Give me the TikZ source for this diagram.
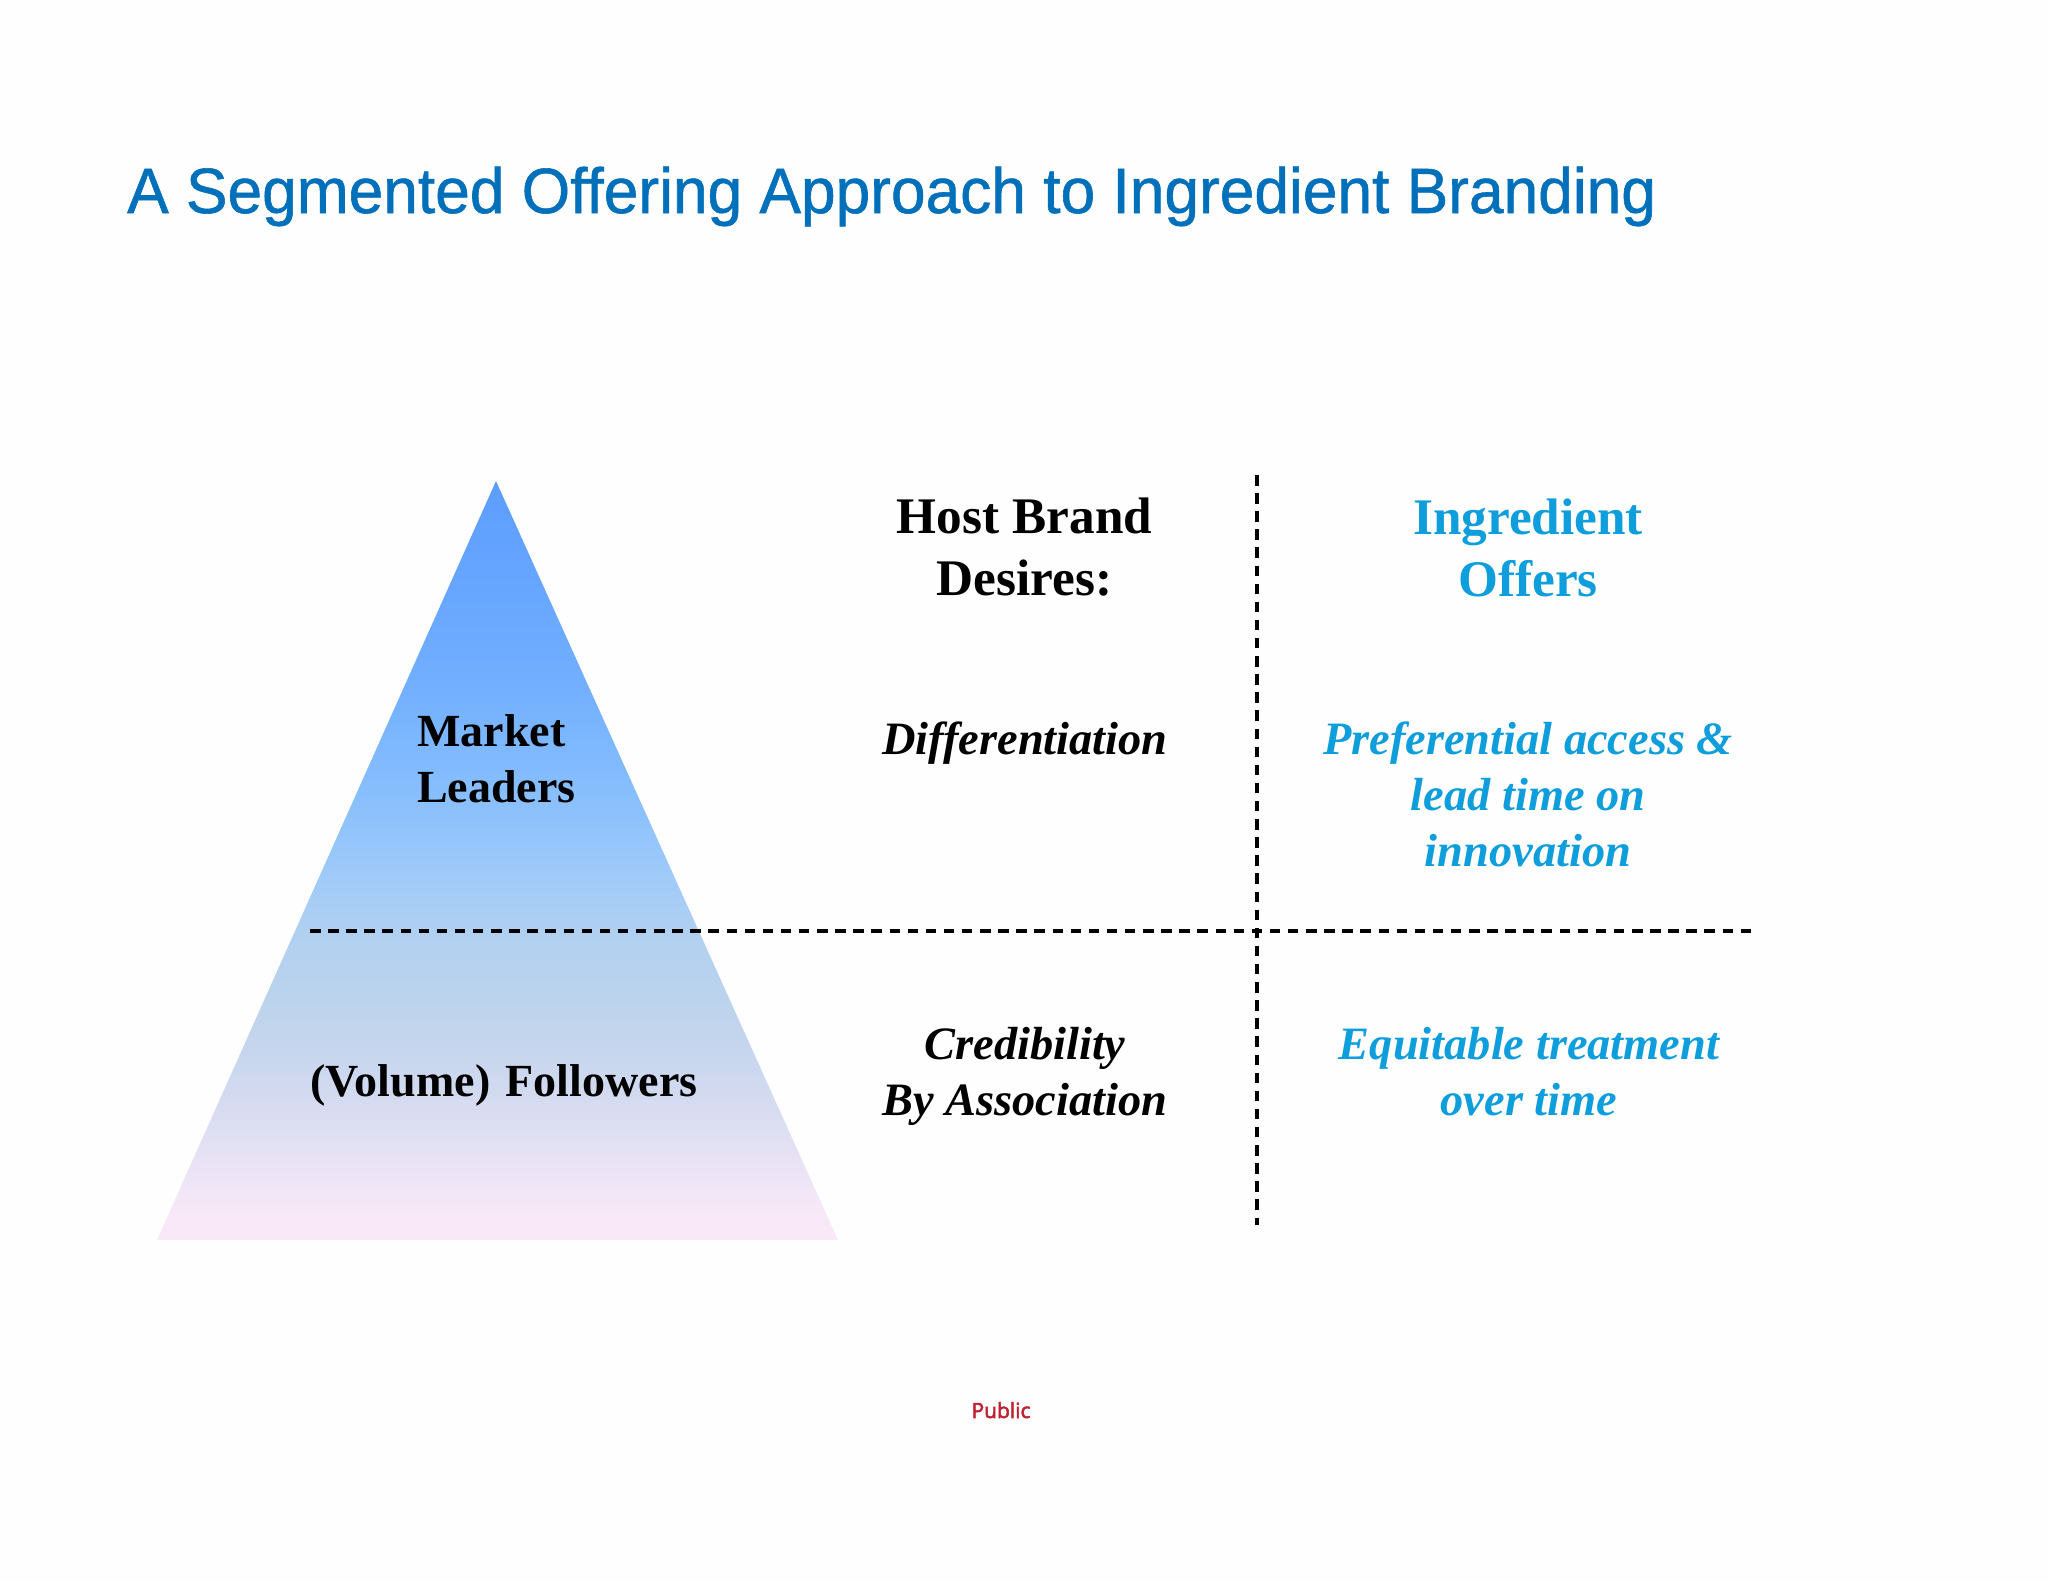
\documentclass[tikz,border=0pt]{standalone}
\usepackage{fontspec}
\setmainfont{Liberation Serif}
\newfontfamily\titlefont[FakeStretch=0.973,FakeBold=0.9,Ligatures=NoCommon]{Liberation Sans}
\newfontfamily\pubfont[FakeBold=2.5]{Open Sans}
\definecolor{titleblue}{HTML}{0070BA}
\definecolor{offerblue}{HTML}{0E9EDC}
\definecolor{pubred}{HTML}{C0212F}
\definecolor{pageoff}{HTML}{FEFEFE}
\definecolor{pyra}{RGB}{249,233,248}
\definecolor{pyrb}{RGB}{200,214,238}
\definecolor{pyrb2}{RGB}{190,212,236}
\definecolor{pyrc}{RGB}{176,208,241}
\definecolor{pyrc2}{RGB}{155,200,250}
\definecolor{pyrd}{RGB}{133,189,253}
\definecolor{pyre}{RGB}{113,174,255}
\definecolor{pyrf}{RGB}{92,157,255}
\pgfdeclareverticalshading{pyr}{100bp}{
  color(0bp)=(pyra);
  color(26.5bp)=(pyra);
  color(37bp)=(pyrb);
  color(40bp)=(pyrb2);
  color(45.4bp)=(pyrc);
  color(50bp)=(pyrc2);
  color(55bp)=(pyrd);
  color(62bp)=(pyre);
  color(75bp)=(pyrf);
  color(100bp)=(pyrf)}
\begin{document}
\begin{tikzpicture}[x=1pt,y=-1pt,
  txt/.style={inner sep=0pt,outer sep=0pt,text=black,font=\bfseries\fontsize{46}{56}\selectfont,align=center},
  head/.style={txt,font=\bfseries\fontsize{51.3}{62}\selectfont},
  desire/.style={txt,font=\bfseries\itshape\fontsize{46.4}{56}\selectfont},
  offer/.style={desire,text=offerblue},
  offerhead/.style={head,text=offerblue},
  divider/.style={draw=black,line width=3.1pt,dash pattern=on 10.5pt off 7.61pt}]
\useasboundingbox (0,0) rectangle (2048,1582);
\fill[pageoff] (0,0) rectangle (2048,1582);
\shade[shading=pyr] (496,481) -- (838,1240) -- (157,1240) -- cycle;
\node[inner sep=0pt,anchor=base west,font=\titlefont\fontsize{64}{70}\selectfont,text=titleblue] (title) at (127,213) {A Segmented Offering Approach to Ingredient Branding};
\coordinate (hl) at (310,931);
\coordinate (hr) at (1751,931);
\coordinate (vt) at (1257,475);
\coordinate (vb) at (1257,1225);
\draw[divider] (hl) -- (hr);
\draw[divider] (vt) -- (vb);
\node[head] (host) at (1024.5,547.5) {Host Brand\\Desires:};
\node[offerhead] (ingr) at (1528,547.5) {Ingredient\\Offers};
\node[txt,align=left] (leaders) at (496.5,759) {Market\\Leaders};
\node[txt,anchor=base] (followers) at (504,1096.5) {(Volume)\hspace{15.5pt}Followers};
\node[desire,anchor=base] (diff) at (1025,754) {Differentiation};
\node[offer] (pref) at (1528,794.5) {Preferential access \&\\lead time on\\innovation};
\node[desire] (cred) at (1025,1076) {Credibility\\By Association};
\node[offer] (equi) at (1529,1072) {Equitable treatment\\over time};
\node[inner sep=0pt,anchor=base,font=\pubfont\fontsize{21}{24}\selectfont,text=pubred] (pub) at (1001,1418) {Public};
\end{tikzpicture}
\end{document}
